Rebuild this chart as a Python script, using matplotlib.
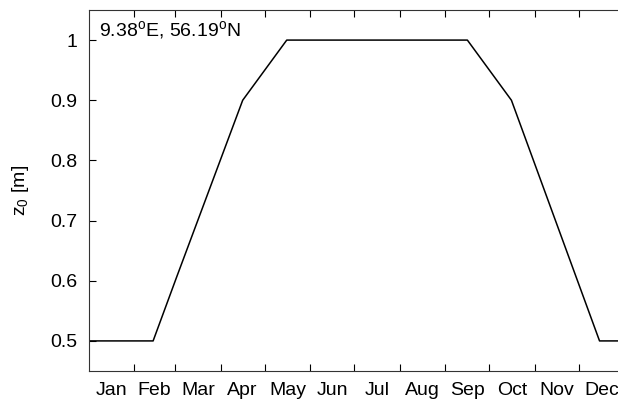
import numpy as np
import matplotlib
matplotlib.use('Agg')
import matplotlib.pyplot as plt

plt.rcParams['font.family'] = ['Liberation Sans', 'DejaVu Sans']
plt.rcParams['mathtext.fontset'] = 'custom'
plt.rcParams['mathtext.rm'] = 'Liberation Sans'
plt.rcParams['mathtext.it'] = 'Liberation Sans'

# day of year and roughness length
days = [0, 44, 60, 105, 135, 258, 288, 348, 365]
z0 = [0.5, 0.5, 0.606, 0.9, 1.0, 1.0, 0.9, 0.5, 0.5]

months = ['Jan', 'Feb', 'Mar', 'Apr', 'May', 'Jun',
          'Jul', 'Aug', 'Sep', 'Oct', 'Nov', 'Dec']
month_len = [31, 28, 31, 30, 31, 30, 31, 31, 30, 31, 30, 31]
month_start = np.concatenate([[0], np.cumsum(month_len)])
month_mid = (month_start[:-1] + month_start[1:]) / 2

yticks = [0.5, 0.6, 0.7, 0.8, 0.9, 1.0]
ylabels = ['0.5', '0.6', '0.7', '0.8', '0.9', '1']

fs = 14

fig = plt.figure(figsize=(6.18, 4.05), dpi=100)
ax = fig.add_axes([88.5 / 618, 34 / 405, 536 / 618, 361 / 405])

ax.plot(days, z0, color='black', linewidth=1.1)

ax.set_xlim(0, 365)
ax.set_ylim(0.45, 1.05)

ax.set_xticks(month_start[1:-1])
ax.set_xticklabels([])
ax.set_xticks(month_mid, minor=True)
ax.set_xticklabels(months, minor=True)
ax.set_yticks(yticks)
ax.set_yticklabels(ylabels)

ax.tick_params(which='major', direction='in', length=5, width=0.8,
               top=True, right=True, labelsize=fs, pad=8)
ax.tick_params(which='minor', length=0, labelsize=fs, pad=8,
               top=False, right=False)
ax.tick_params(axis='y', which='minor', left=False)

for s in ax.spines.values():
    s.set_linewidth(0.8)
    s.set_color('#333333')

ax.set_ylabel(r'z$_0$ [m]', fontsize=fs, labelpad=14)

ax.text(0.02, 0.975, r'9.38$^{\rm o}$E, 56.19$^{\rm o}$N',
        transform=ax.transAxes, fontsize=fs, va='top', ha='left')

fig.savefig('out.png', dpi=100)
